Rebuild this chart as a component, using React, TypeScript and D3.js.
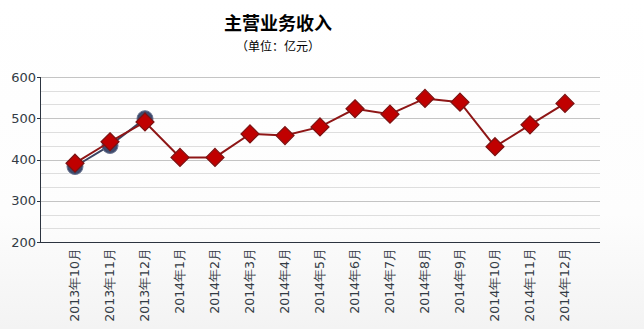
import React from "react";
import * as d3 from "d3";

const categories = [
  "2013年10月", "2013年11月", "2013年12月", "2014年1月", "2014年2月", "2014年3月",
  "2014年4月", "2014年5月", "2014年6月", "2014年7月", "2014年8月", "2014年9月",
  "2014年10月", "2014年11月", "2014年12月",
];
const revenue = [391, 443, 491, 405, 405, 462, 458, 479, 523, 510, 548, 539, 431, 484, 536];
const prevSeriesCats = ["2013年10月", "2013年11月", "2013年12月"];
const prevSeries = [383, 434, 499];
const yTicks = [200, 300, 400, 500, 600];
const title = "主营业务收入";
const subtitle = "（单位：亿元）";

const W = 644;
const H = 329;
const left = 40;
const right = 600;
const top = 77;
const bottom = 242;

export default function App() {
  const x = d3.scalePoint<string>().domain(categories).range([left, right]).padding(1);
  const y = d3.scaleLinear().domain([200, 600]).range([bottom, top]);
  const minor = d3.range(200, 600.01, 100 / 3);
  const line = d3
    .line<[string, number]>()
    .x((d) => x(d[0]) as number)
    .y((d) => y(d[1]));
  const redData: [string, number][] = categories.map((c, i) => [c, revenue[i]]);
  const blueData: [string, number][] = prevSeriesCats.map((c, i) => [c, prevSeries[i]]);
  const dsz = 9;
  const font = "'DejaVu Sans', Verdana, sans-serif";
  return (
    <svg
      width={W}
      height={H}
      style={{ position: "absolute", left: 0, top: 0, display: "block" }}
    >
      <defs>
        <linearGradient id="bg" x1="0" y1="0" x2="0" y2="1">
          <stop offset="0" stopColor="#ffffff" />
          <stop offset="0.65" stopColor="#fdfdfd" />
          <stop offset="1" stopColor="#f3f3f3" />
        </linearGradient>
      </defs>
      <rect x={0} y={0} width={W} height={H} fill="url(#bg)" />
      <text
        x={278}
        y={30}
        textAnchor="middle"
        fontFamily="'Noto Sans CJK SC', sans-serif"
        fontWeight="bold"
        fontSize={18}
        fill="#000"
      >
        {title}
      </text>
      <text
        x={278}
        y={51}
        textAnchor="middle"
        fontFamily="'Noto Sans CJK SC', sans-serif"
        fontSize={12}
        fill="#000"
      >
        {subtitle}
      </text>
      {minor.map((v, i) => (
        <line
          key={"g" + i}
          x1={left}
          x2={right}
          y1={Math.round(y(v)) + 0.5}
          y2={Math.round(y(v)) + 0.5}
          stroke={i % 3 === 0 ? "#c4c4c4" : "#dedede"}
          strokeWidth={1}
        />
      ))}
      <line x1={left + 0.5} x2={left + 0.5} y1={top} y2={bottom + 0.5} stroke="#2c3440" strokeWidth={1} />
      <line x1={left} x2={right} y1={bottom + 0.5} y2={bottom + 0.5} stroke="#2c3440" strokeWidth={1} />
      {yTicks.map((t) => (
        <g key={"y" + t}>
          <line x1={left - 3} x2={left} y1={Math.round(y(t)) + 0.5} y2={Math.round(y(t)) + 0.5} stroke="#2c3440" />
          <text
            x={left - 4}
            y={y(t)}
            dy="0.35em"
            textAnchor="end"
            fontFamily={font}
            fontSize={13}
            fill="#333b44"
          >
            {t}
          </text>
        </g>
      ))}
      {categories.map((c) => (
        <text
          key={"x" + c}
          transform={`translate(${x(c)},${bottom + 6}) rotate(-90)`}
          dy="0.35em"
          textAnchor="end"
          fontFamily={font}
          fontSize={12.5}
          fill="#333b44"
        >
          {c}
        </text>
      ))}
      <path d={line(blueData) || ""} fill="none" stroke="#3b4563" strokeWidth={2} />
      {blueData.map((d, i) => (
        <circle
          key={"b" + i}
          cx={x(d[0])}
          cy={y(d[1])}
          r={8}
          fill="#3e4a6c"
          stroke="#6b7592"
          strokeWidth={1}
        />
      ))}
      <path d={line(redData) || ""} fill="none" stroke="#8e1616" strokeWidth={2} />
      {redData.map((d, i) => {
        const cx = x(d[0]) as number;
        const cy = y(d[1]);
        return (
          <path
            key={"r" + i}
            d={`M${cx},${cy - dsz}L${cx + dsz},${cy}L${cx},${cy + dsz}L${cx - dsz},${cy}Z`}
            fill="#c00000"
            stroke="#7a1212"
            strokeWidth={1.2}
          />
        );
      })}
    </svg>
  );
}
